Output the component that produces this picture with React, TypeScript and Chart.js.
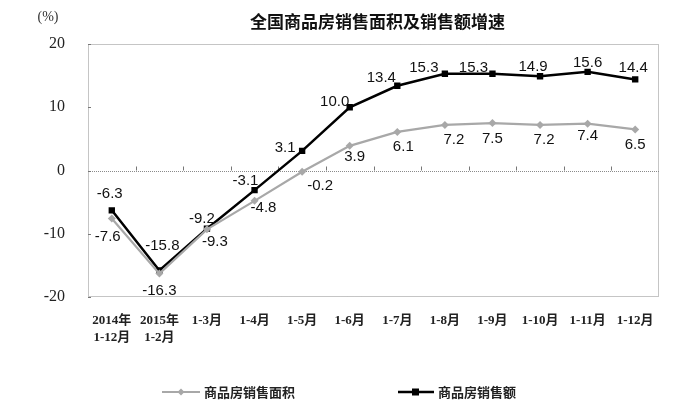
import React, { useEffect, useRef } from "react";
import { Chart, registerables } from "chart.js";

Chart.register(...registerables);

// Periods (year-to-date)
const periods: (string | string[])[] = [
  ["2014年", "1-12月"],
  ["2015年", "1-2月"],
  "1-3月",
  "1-4月",
  "1-5月",
  "1-6月",
  "1-7月",
  "1-8月",
  "1-9月",
  "1-10月",
  "1-11月",
  "1-12月",
];

// Growth of floor space sold (%)
const areaGrowth = [-7.6, -16.3, -9.3, -4.8, -0.2, 3.9, 6.1, 7.2, 7.5, 7.2, 7.4, 6.5];
// Growth of sales value (%)
const salesGrowth = [-6.3, -15.8, -9.2, -3.1, 3.1, 10.0, 13.4, 15.3, 15.3, 14.9, 15.6, 14.4];

const yTicks = [-20, -10, 0, 10, 20];

const areaName = "商品房销售面积";
const salesName = "商品房销售额";
const titleText = "全国商品房销售面积及销售额增速";
const unitText = "(%)";

// Label nudges (px) relative to each point
const salesLabelShift: [number, number][] = [
  [-2, -16], [3, -25], [-5, -10], [-9, -9], [-17, -3], [-15, -5],
  [-16, -8], [-21, -6], [-19, -6], [-7, -9], [0, -9], [-2, -12],
];
const areaLabelShift: [number, number][] = [
  [-4, 18], [0, 17], [8, 13], [9, 7], [18, 14], [5, 11],
  [6, 15], [9, 15], [0, 16], [4, 15], [0, 12], [0, 15],
];

const GRAY = "#a8a8a8";
const SANS = "'Liberation Sans', Arial, 'Noto Sans CJK SC', sans-serif";
const SERIF = "'Liberation Serif', 'Times New Roman', 'Noto Sans CJK SC', serif";
const CJK = "'Noto Sans CJK SC', sans-serif";

function diamond(ctx: CanvasRenderingContext2D, x: number, y: number, r: number) {
  ctx.beginPath();
  ctx.moveTo(x, y - r);
  ctx.lineTo(x + r, y);
  ctx.lineTo(x, y + r);
  ctx.lineTo(x - r, y);
  ctx.closePath();
  ctx.fill();
}

const decorations = {
  id: "decorations",
  beforeDatasetsDraw(chart: any) {
    const { ctx, chartArea: a, scales } = chart;
    const y0 = scales.y.getPixelForValue(0);
    ctx.save();
    ctx.strokeStyle = "#8a8a8a";
    ctx.lineWidth = 1;
    ctx.setLineDash([1, 1]);
    ctx.strokeRect(a.left + 0.5, a.top + 0.5, a.right - a.left - 1, a.bottom - a.top - 1);
    ctx.beginPath();
    ctx.moveTo(a.left, Math.round(y0) + 0.5);
    ctx.lineTo(a.right, Math.round(y0) + 0.5);
    ctx.stroke();
    ctx.setLineDash([]);
    // tick marks on the zero line at category boundaries
    const step = (a.right - a.left) / periods.length;
    ctx.strokeStyle = "#777";
    ctx.beginPath();
    for (let i = 1; i < periods.length; i++) {
      const x = Math.round(a.left + step * i) + 0.5;
      ctx.moveTo(x, y0);
      ctx.lineTo(x, y0 - 4);
    }
    // small ticks on the value axis
    for (const v of yTicks) {
      const y = Math.round(scales.y.getPixelForValue(v)) + 0.5;
      ctx.moveTo(a.left, y);
      ctx.lineTo(a.left + 3, y);
    }
    ctx.stroke();
    ctx.restore();
  },
  afterDraw(chart: any) {
    const { ctx, chartArea: a } = chart;
    ctx.save();
    // title
    ctx.fillStyle = "#111";
    ctx.textAlign = "center";
    ctx.textBaseline = "middle";
    ctx.font = `bold 17px ${CJK}`;
    ctx.fillText(titleText, (a.left + a.right) / 2 + 4, 22);
    ctx.font = `14px ${SERIF}`;
    ctx.fillStyle = "#333";
    ctx.fillText(unitText, 48, 17);

    // value labels
    ctx.font = `15px ${SANS}`;
    ctx.fillStyle = "#111";
    const salesMeta = chart.getDatasetMeta(1);
    salesMeta.data.forEach((pt: any, i: number) => {
      const [dx, dy] = salesLabelShift[i];
      ctx.fillText(salesGrowth[i].toFixed(1), pt.x + dx, pt.y + dy);
    });
    const areaMeta = chart.getDatasetMeta(0);
    areaMeta.data.forEach((pt: any, i: number) => {
      const [dx, dy] = areaLabelShift[i];
      ctx.fillText(areaGrowth[i].toFixed(1), pt.x + dx, pt.y + dy);
    });

    // legend
    const ly = 392;
    ctx.lineWidth = 2;
    ctx.strokeStyle = GRAY;
    ctx.beginPath();
    ctx.moveTo(162, ly);
    ctx.lineTo(200, ly);
    ctx.stroke();
    ctx.fillStyle = GRAY;
    diamond(ctx, 181, ly, 3.5);
    ctx.strokeStyle = "#000";
    ctx.lineWidth = 2.5;
    ctx.beginPath();
    ctx.moveTo(398, ly);
    ctx.lineTo(434, ly);
    ctx.stroke();
    ctx.fillStyle = "#000";
    ctx.fillRect(412, ly - 3.5, 7, 7);
    ctx.font = `bold 13px ${CJK}`;
    ctx.fillStyle = "#222";
    ctx.textAlign = "left";
    ctx.fillText(areaName, 204, ly);
    ctx.fillText(salesName, 438, ly);
    ctx.restore();
  },
};

export default function App() {
  const ref = useRef<HTMLCanvasElement>(null);

  useEffect(() => {
    document.body.style.margin = "0";
    document.body.style.background = "#fff";
    const chart = new Chart(ref.current!, {
      type: "line",
      data: {
        labels: periods,
        datasets: [
          {
            label: areaName,
            data: areaGrowth,
            borderColor: GRAY,
            backgroundColor: GRAY,
            borderWidth: 2.2,
            pointStyle: "rectRot",
            pointRadius: 4,
            pointBorderWidth: 0,
            tension: 0,
          },
          {
            label: salesName,
            data: salesGrowth,
            borderColor: "#000",
            backgroundColor: "#000",
            borderWidth: 2.5,
            pointStyle: "rect",
            pointRadius: 4.5,
            pointBorderWidth: 0,
            tension: 0,
          },
        ],
      },
      options: {
        responsive: false,
        animation: false,
        layout: { padding: { left: 0, top: 44, right: 21, bottom: 0 } },
        plugins: {
          legend: { display: false },
          title: { display: false },
          tooltip: { enabled: false },
        },
        scales: {
          x: {
            offset: true,
            grid: { display: false },
            border: { display: false },
            ticks: {
              autoSkip: false,
              maxRotation: 0,
              padding: 8,
              color: "#222",
              font: { family: SERIF, size: 13, weight: "bold", lineHeight: 1.25 },
            },
            afterFit(scale: any) {
              scale.height = 108;
            },
          },
          y: {
            min: -20,
            max: 20,
            grid: { display: false },
            border: { display: false },
            ticks: {
              stepSize: 10,
              padding: 15,
              color: "#222",
              font: { family: SERIF, size: 16 },
            },
            afterFit(scale: any) {
              scale.width = 88;
            },
          },
        },
      },
      plugins: [decorations],
    });
    return () => chart.destroy();
  }, []);

  return <canvas ref={ref} width={680} height={405} style={{ display: "block" }} />;
}
